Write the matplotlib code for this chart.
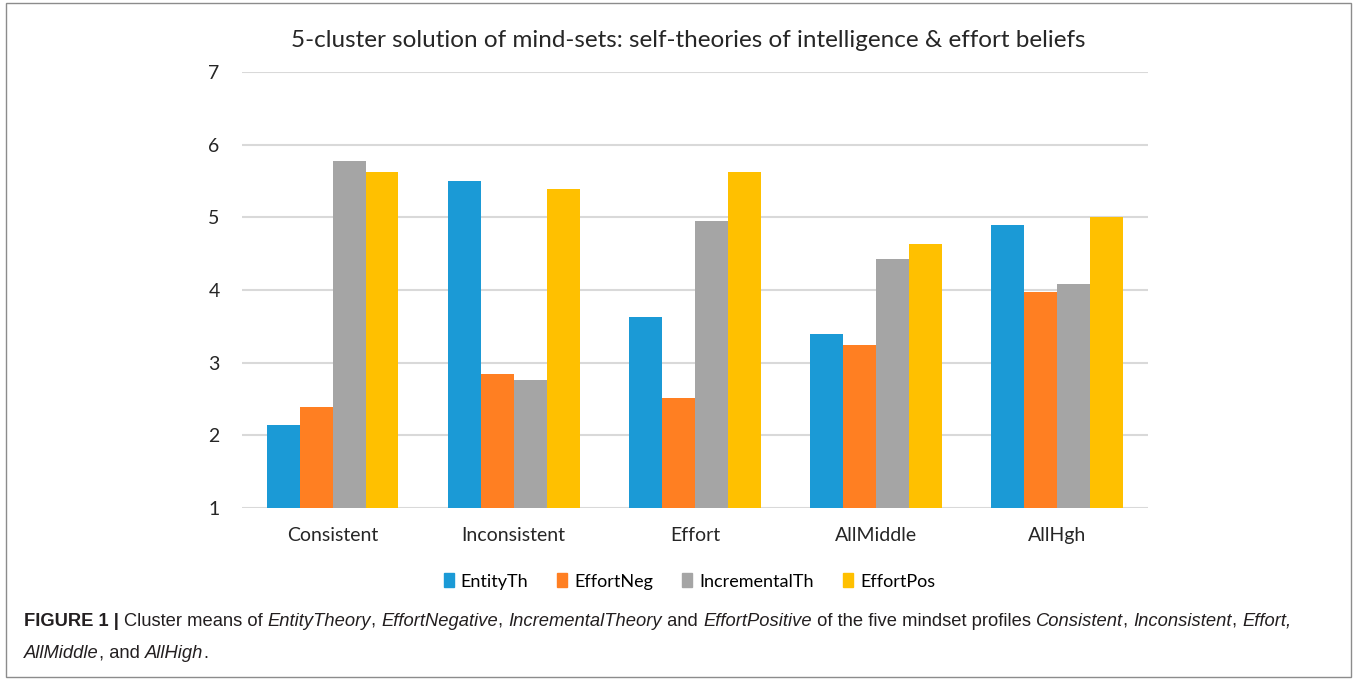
import matplotlib
matplotlib.use("Agg")
import matplotlib.pyplot as plt
import numpy as np
from matplotlib.patches import Rectangle, Patch

clusters = ["Consistent", "Inconsistent", "Effort", "AllMiddle", "AllHgh"]
series_names = ["EntityTh", "EffortNeg", "IncrementalTh", "EffortPos"]
entity_th = [2.14, 5.50, 3.63, 3.39, 4.90]
effort_neg = [2.39, 2.85, 2.52, 3.24, 3.97]
incremental_th = [5.78, 2.76, 4.95, 4.43, 4.08]
effort_pos = [5.63, 5.39, 5.63, 4.64, 5.01]
colours = ["#1B9AD6", "#FF7F22", "#A5A5A5", "#FFC000"]

chart_font = ["Lato", "DejaVu Sans"]
caption_font = ["Liberation Sans Narrow", "Liberation Sans", "DejaVu Sans"]

fig = plt.figure(figsize=(13.57, 6.81), dpi=100)
ax = fig.add_axes([0.1783, 0.254, 0.6675, 0.640])

x = np.arange(len(clusters))
w = 0.182
allvals = [entity_th, effort_neg, incremental_th, effort_pos]
for i, vals in enumerate(allvals):
    ax.bar(x + (i - 1.5) * w, np.array(vals) - 1, bottom=1, width=w,
           color=colours[i], label=series_names[i], zorder=3)

ax.set_xlim(-0.5, 4.5)
ax.set_ylim(1, 7)
ax.set_yticks(range(1, 8))
ax.yaxis.grid(True, color="#D9D9D9", linewidth=1.5, zorder=0)
ax.set_axisbelow(True)
for s in ax.spines.values():
    s.set_visible(False)
ax.tick_params(length=0)
ax.tick_params(axis="y", pad=16)
ax.tick_params(axis="x", pad=14)
ax.set_xticks(x)
ax.set_xticklabels(clusters, fontsize=14, family=chart_font, color="#262626")
for t in ax.get_yticklabels():
    t.set_fontsize(14)
    t.set_family(chart_font)
    t.set_color("#262626")

fig.text(0.507, 0.940, "5-cluster solution of mind-sets: self-theories of intelligence & effort beliefs",
         ha="center", va="center", fontsize=17.5, family=chart_font, color="#262626")

handles = [Patch(color=c) for c in colours]
fig.legend(handles, series_names, loc="center", bbox_to_anchor=(0.508, 0.146), ncol=4,
           frameon=False, prop={"family": chart_font, "size": 13}, handlelength=0.55,
           handleheight=0.8, handletextpad=0.4, columnspacing=1.6)

# border
fig.patches.append(Rectangle((0.0045, 0.006), 0.991, 0.99, transform=fig.transFigure,
                             fill=False, edgecolor="#8C8C8C", linewidth=1.0))

# caption with mixed styles
line1 = [("FIGURE 1 | ", "bold", "normal"), ("Cluster means of ", "normal", "normal"),
         ("EntityTheory", "normal", "italic"), (", ", "normal", "normal"),
         ("EffortNegative", "normal", "italic"), (", ", "normal", "normal"),
         ("IncrementalTheory", "normal", "italic"), (" and ", "normal", "normal"),
         ("EffortPositive", "normal", "italic"),
         (" of the five mindset profiles ", "normal", "normal"),
         ("Consistent", "normal", "italic"), (", ", "normal", "normal"),
         ("Inconsistent", "normal", "italic"), (", ", "normal", "normal"),
         ("Effort,", "normal", "italic")]
line2 = [("AllMiddle", "normal", "italic"), (", and ", "normal", "normal"),
         ("AllHigh", "normal", "italic"), (".", "normal", "normal")]

renderer = fig.canvas.get_renderer()


def draw_line(parts, y):
    xpos = 0.0177
    for txt, weight, style in parts:
        t = fig.text(xpos, y, txt, fontsize=13.2, family=caption_font, weight=weight,
                     style=style, ha="left", va="baseline", color="#231F20")
        bb = t.get_window_extent(renderer=renderer)
        xpos = fig.transFigure.inverted().transform((bb.x1, bb.y0))[0]


draw_line(line1, 1 - 626 / 681)
draw_line(line2, 1 - 658 / 681)

fig.savefig("out.png", dpi=100)
